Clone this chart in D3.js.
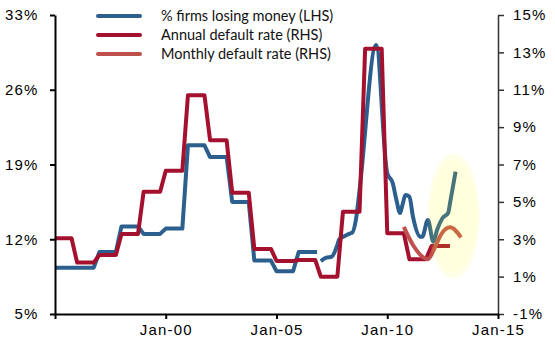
<!DOCTYPE html>
<html>
<head>
<meta charset="utf-8">
<script src="https://cdn.jsdelivr.net/npm/d3@7"></script>
<style>
  body { margin: 0; background: #fff; }
  svg text { font-family: "Liberation Sans", Arial, sans-serif; }
  .axis text { font-size: 15px; letter-spacing: 1.2px; fill: #000; }
  .legend text { font-family: Lato, "Open Sans", sans-serif; font-size: 14.5px; fill: #111; letter-spacing: 0; }
</style>
</head>
<body>
<svg id="chart" width="555" height="349"></svg>
<script>
// annual series (one value per calendar year)
const annualYears = d3.range(1995, 2013);
const annualDefault = [3.05, 1.75, 2.16, 3.28, 5.54, 6.67, 10.7, 8.3, 5.49, 2.48, 1.84, 1.89, 1.0, 4.47, 13.2, 3.32, 1.93, 2.64];

const lossYears = d3.range(1995, 2007);
const lossAnnual = [9.34, 9.34, 10.8, 13.2, 12.5, 13.0, 20.8, 19.7, 15.5, 10.0, 9.0, 10.8];

// monthly observations of % firms losing money, from 2007
const lossMonths = ["2007-01", "2007-04", "2007-07", "2007-10", "2007-11", "2008-02", "2008-05", "2008-06",
  "2008-08", "2008-10", "2009-07", "2010-01", "2010-04", "2010-06", "2010-08", "2010-09", "2010-11",
  "2011-01", "2011-03", "2011-07", "2011-08", "2011-11", "2012-02", "2012-04", "2012-07", "2012-10",
  "2012-11", "2013-02"];
const lossMonthly = [9.96, 10.27, 10.37, 11.46, 12.0, 12.3, 12.56, 12.61, 13.8, 16.6, 30.19, 18.17, 17.27,
  15.67, 14.46, 15.05, 16.14, 15.98, 14.11, 12.24, 12.24, 13.8, 11.77, 12.87, 13.99, 14.46, 15.39, 18.33];

const defaultMonths = ["2010-10", "2011-03", "2011-11", "2012-03", "2012-06", "2012-11", "2013-05"];
const defaultMonthly = [3.66, 2.69, 1.93, 2.6, 3.23, 3.64, 3.1];

const leftTicks = [5, 12, 19, 26, 33];
const rightTicks = [-1, 1, 3, 5, 7, 9, 11, 13, 15];
const xTickYears = [1995, 2000, 2005, 2010, 2015];

const legendItems = [
  { label: "% firms losing money (LHS)", color: "#2C5F8D" },
  { label: "Annual default rate (RHS)", color: "#A3112F" },
  { label: "Monthly default rate (RHS)", color: "#C0504D" }
];

const svg = d3.select("#chart");
const parseMonth = d3.timeParse("%Y-%m");

const x = d3.scaleTime()
  .domain([new Date(1995, 0, 1), new Date(2015, 0, 1)])
  .range([55, 498]);
const yL = d3.scaleLinear().domain([5, 33]).range([314, 15]);
const yR = d3.scaleLinear().domain([-1, 15]).range([314, 15]);

// annual value held Jan..Oct, then moves to next year's value by January
function stepPoints(years, values) {
  const pts = [];
  years.forEach((yr, i) => {
    pts.push({ date: new Date(yr, 0, 1), v: values[i] });
    const endMonth = i === years.length - 1 ? 10 : 9;
    pts.push({ date: new Date(yr, endMonth, 1), v: values[i] });
  });
  return pts;
}

const lossMonthlyPts = lossMonths.map((m, i) => ({ date: parseMonth(m), v: lossMonthly[i] }));
const defaultMonthlyPts = defaultMonths.map((m, i) => ({ date: parseMonth(m), v: defaultMonthly[i] }));

const lineL = d3.line().x(d => x(d.date)).y(d => yL(d.v));
const lineR = d3.line().x(d => x(d.date)).y(d => yR(d.v));
const smoothL = d3.line().x(d => x(d.date)).y(d => yL(d.v)).curve(d3.curveMonotoneX);
const smoothR = d3.line().x(d => x(d.date)).y(d => yR(d.v)).curve(d3.curveMonotoneX);

const lines = svg.append("g")
  .attr("fill", "none")
  .attr("stroke-width", 4)
  .attr("stroke-linejoin", "round");

lines.append("path").attr("d", lineL(stepPoints(lossYears, lossAnnual))).attr("stroke", legendItems[0].color);
lines.append("path").attr("d", smoothL(lossMonthlyPts)).attr("stroke", legendItems[0].color);
lines.append("path").attr("d", lineR(stepPoints(annualYears, annualDefault))).attr("stroke", legendItems[1].color);
lines.append("path").attr("d", smoothR(defaultMonthlyPts)).attr("stroke", legendItems[2].color);

// highlight ellipse, translucent yellow over the recent data
const grad = svg.append("defs").append("radialGradient").attr("id", "glow");
grad.append("stop").attr("offset", "0%").attr("stop-color", "#ffff00").attr("stop-opacity", 0.14);
grad.append("stop").attr("offset", "85%").attr("stop-color", "#ffff00").attr("stop-opacity", 0.13);
grad.append("stop").attr("offset", "100%").attr("stop-color", "#ffff00").attr("stop-opacity", 0.06);

svg.append("ellipse")
  .attr("cx", 453.5).attr("cy", 216)
  .attr("rx", 26.5).attr("ry", 63)
  .attr("fill", "url(#glow)");

// axes
const axisL = svg.append("g").attr("class", "axis")
  .attr("transform", "translate(55,0)")
  .call(d3.axisLeft(yL).tickValues(leftTicks).tickSize(5).tickSizeOuter(0).tickPadding(11.5)
    .tickFormat(d => d + "%"));

const axisR = svg.append("g").attr("class", "axis")
  .attr("transform", "translate(498,0)")
  .call(d3.axisRight(yR).tickValues(rightTicks).tickSize(6).tickSizeOuter(0).tickPadding(9)
    .tickFormat(d => d + "%"));

const fmt = d3.timeFormat("%b-%y");
const axisB = svg.append("g").attr("class", "axis")
  .attr("transform", "translate(0,314)")
  .call(d3.axisBottom(x).tickValues(xTickYears.map(yr => new Date(yr, 0, 1)))
    .tickSize(5).tickSizeOuter(0).tickPadding(5)
    .tickFormat(d => d.getFullYear() === 1995 ? "" : fmt(d)));

svg.selectAll(".axis .domain, .axis .tick line").attr("stroke", "#000").attr("stroke-width", 2);
axisR.selectAll(".domain, .tick line").attr("stroke", "#333").attr("stroke-width", 1.5);

// legend
const legend = svg.append("g").attr("class", "legend");
const rows = legend.selectAll("g").data(legendItems).join("g")
  .attr("transform", (d, i) => `translate(0,${16 + i * 19})`);
rows.append("line")
  .attr("x1", 98).attr("x2", 140)
  .attr("stroke", d => d.color)
  .attr("stroke-width", 4)
  .attr("stroke-linecap", "round");
rows.append("text")
  .attr("x", 161).attr("dy", "0.35em")
  .text(d => d.label);
</script>
</body>
</html>
